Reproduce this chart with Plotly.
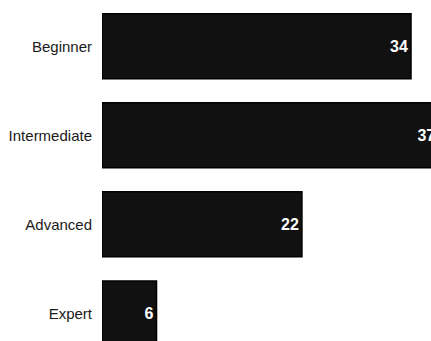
import plotly.graph_objects as go

levels = ["Beginner", "Intermediate", "Advanced", "Expert"]
counts = [34, 37, 22, 6]

FONT = "Liberation Sans, Arial, sans-serif"

fig = go.Figure(
    go.Bar(
        x=counts,
        y=levels,
        orientation="h",
        marker=dict(color="#111111", line=dict(color="#000000", width=1.5)),
        text=[str(v) for v in counts],
        textposition="inside",
        insidetextanchor="end",
        textangle=0,
        insidetextfont=dict(family=FONT, size=16, color="#ffffff", weight="bold"),
        cliponaxis=True,
        hoverinfo="skip",
    )
)

fig.update_layout(
    width=431,
    height=341,
    margin=dict(l=102, r=0, t=0, b=0),
    paper_bgcolor="white",
    plot_bgcolor="white",
    bargap=0.27,
    showlegend=False,
    uniformtext=dict(mode=False),
    xaxis=dict(range=[0, 36.2], visible=False, fixedrange=True),
    yaxis=dict(
        categoryorder="array",
        categoryarray=levels,
        range=[3.31, -0.52],
        showgrid=False,
        zeroline=False,
        showline=False,
        ticks="",
        ticklabelstandoff=9,
        tickfont=dict(family=FONT, size=15, color="#1a1a1a"),
    ),
)

fig.write_html("out.html", config={"displayModeBar": False})
